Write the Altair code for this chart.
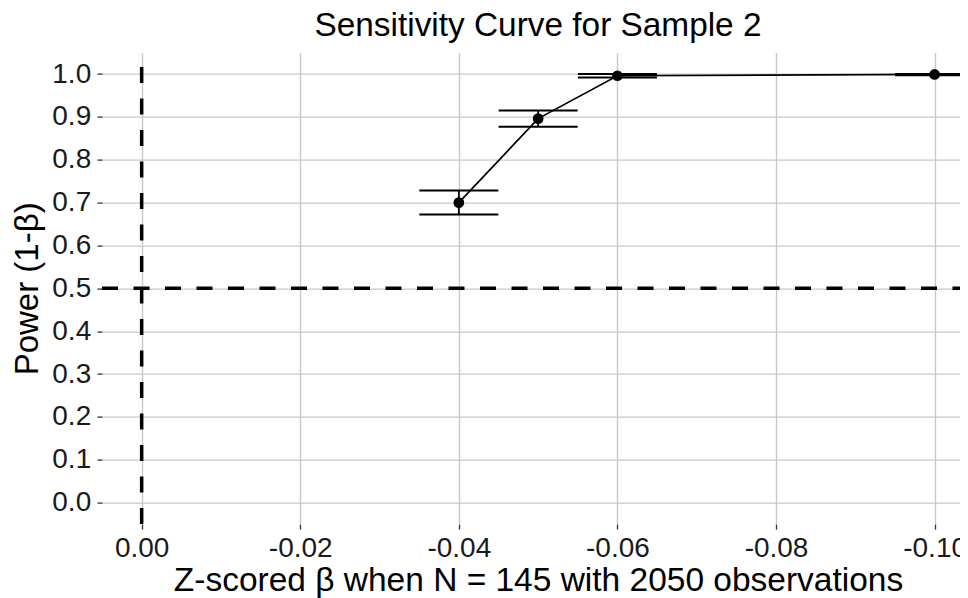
import altair as alt
import pandas as pd

# ---- data ----
beta = [-0.04, -0.05, -0.06, -0.10]
power = [0.700, 0.896, 0.996, 0.999]
lower = [0.672, 0.877, 0.992, 0.997]
upper = [0.728, 0.915, 1.000, 1.000]

x_ticks = [0.00, -0.02, -0.04, -0.06, -0.08, -0.10]
y_ticks = [0.0, 0.1, 0.2, 0.3, 0.4, 0.5, 0.6, 0.7, 0.8, 0.9, 1.0]
ref_x = [0.0]
ref_y = [0.5]

title_text = ["Sensitivity Curve for Sample 2"]
x_title = "Z-scored β when N = 145 with 2050 observations"
y_title = "Power (1-β)"

FONT = "Liberation Sans"
W = 858
H = 471.5

df = pd.DataFrame({"beta": beta, "power": power, "lower": lower, "upper": upper})
vdf = pd.DataFrame({"x": ref_x})
hdf = pd.DataFrame({"y": ref_y})
tdf = pd.DataFrame({"t": title_text})

xscale = alt.Scale(domain=[-0.1032, 0.005], reverse=True, nice=False, zero=False)
yscale = alt.Scale(domain=[-0.05, 1.05], nice=False, zero=False)

xaxis = alt.Axis(
    values=x_ticks,
    labelExpr="datum.value == 0 ? '0.00' : '-' + format(abs(datum.value), '.2f')",
    title=x_title, domain=False,
    titleX=436, titleY=66.6, titleAlign="center", titleBaseline="alphabetic",
    titleFontSize=33.5, titleFontWeight="normal", labelFontSize=28, labelPadding=5.5,
    tickSize=5, labelFlush=False, labelOverlap=False, labelBound=False,
)
yaxis = alt.Axis(
    values=y_ticks, format=".1f",
    title=y_title, domain=False,
    titleAngle=270, titleX=-64.5, titleY=H / 2, titleAlign="center",
    titleBaseline="alphabetic", titleFontSize=33, titleFontWeight="normal",
    labelFontSize=28, labelPadding=6.3, tickSize=5,
    labelFlush=False, labelOverlap=False, labelBound=False,
)

base = alt.Chart(df)

vline = alt.Chart(vdf).mark_rule(
    color="black", strokeWidth=3.5, strokeDash=[16, 15.5]
).encode(
    x=alt.X("x:Q", scale=xscale, axis=xaxis),
    y=alt.value(H), y2=alt.value(0),
)

hline = alt.Chart(hdf).mark_rule(
    color="black", strokeWidth=3.5, strokeDash=[16, 15.5]
).encode(
    y=alt.Y("y:Q", scale=yscale, axis=yaxis),
    x=alt.value(0), x2=alt.value(W),
)

err = base.mark_rule(color="black", strokeWidth=1.8, clip=True).encode(
    x=alt.X("beta:Q", scale=xscale, axis=xaxis),
    y=alt.Y("lower:Q", scale=yscale, axis=yaxis),
    y2="upper:Q",
)

cap_lo = base.mark_tick(color="black", orient="horizontal", size=79, thickness=2,
                        opacity=1, clip=True).encode(
    x=alt.X("beta:Q", scale=xscale, axis=xaxis),
    y=alt.Y("lower:Q", scale=yscale, axis=yaxis),
)
cap_hi = base.mark_tick(color="black", orient="horizontal", size=79, thickness=2,
                        opacity=1, clip=True).encode(
    x=alt.X("beta:Q", scale=xscale, axis=xaxis),
    y=alt.Y("upper:Q", scale=yscale, axis=yaxis),
)

line = base.mark_line(color="black", strokeWidth=1.7, clip=True).encode(
    x=alt.X("beta:Q", scale=xscale, axis=xaxis),
    y=alt.Y("power:Q", scale=yscale, axis=yaxis),
)

pts = base.mark_circle(color="black", size=115, opacity=1, clip=True).encode(
    x=alt.X("beta:Q", scale=xscale, axis=xaxis),
    y=alt.Y("power:Q", scale=yscale, axis=yaxis),
)

title = alt.Chart(tdf).mark_text(
    font=FONT, fontSize=33.4, color="black", align="center", baseline="alphabetic"
).encode(
    text="t:N", x=alt.value(436), y=alt.value(-16.6),
)

chart = alt.layer(vline, hline, err, cap_lo, cap_hi, line, pts, title).properties(
    width=W, height=H,
    autosize=alt.AutoSizeParams(type="none"),
    padding={"left": 94, "top": 44.6, "right": 0, "bottom": 80},
    background="white",
).configure_view(
    strokeWidth=0, stroke="transparent"
).configure_axis(
    domain=False,
    grid=True, gridColor="#c8c8c8", gridWidth=1.4,
    ticks=True, tickColor="#333333", tickWidth=1.3,
    labelColor="#1a1a1a", titleColor="black",
    labelFont=FONT, titleFont=FONT, titleFontWeight="normal",
)

chart.save("out.html", embed_options={"renderer": "svg", "actions": False})
